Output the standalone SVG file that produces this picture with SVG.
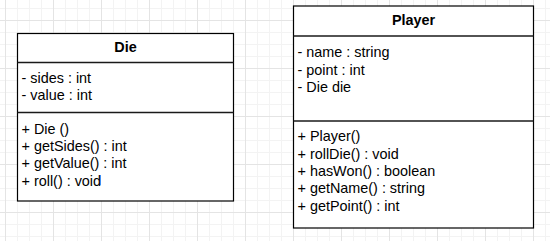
<svg xmlns="http://www.w3.org/2000/svg" width="550" height="241" viewBox="0 0 550 241">
  <style>
    .box { fill: #ffffff; stroke: #000000; stroke-width: 1.2; }
    .div { stroke: #1a1a1a; stroke-width: 1.3; fill: none; }
    .t { font-family: "Liberation Sans", Arial, sans-serif; font-size: 14.4px; fill: #000000; }
    .h { font-weight: bold; text-anchor: middle; }
  </style>
  <defs>
    <!-- canvas grid: minor line every 12px, major every 48px -->
    <pattern id="grid" x="5" y="20" width="48" height="48" patternUnits="userSpaceOnUse">
      <rect x="12" y="0" width="1" height="48" fill="#f3f3f3"/>
      <rect x="24" y="0" width="1" height="48" fill="#f3f3f3"/>
      <rect x="36" y="0" width="1" height="48" fill="#f3f3f3"/>
      <rect x="0" y="12" width="48" height="1" fill="#f3f3f3"/>
      <rect x="0" y="24" width="48" height="1" fill="#f3f3f3"/>
      <rect x="0" y="36" width="48" height="1" fill="#f3f3f3"/>
      <rect x="0" y="0" width="1" height="48" fill="#e4e4e4"/>
      <rect x="0" y="0" width="48" height="1" fill="#e4e4e4"/>
    </pattern>
  </defs>

  <rect width="550" height="241" fill="#ffffff"/>
  <rect width="550" height="241" fill="url(#grid)"/>

  <g id="connectors"/>

  <!-- class Die -->
  <g id="die">
    <rect class="box" x="17.5" y="33.5" width="216" height="167.5"/>
    <line class="div" x1="17.5" y1="62.5" x2="233.5" y2="62.5"/>
    <line class="div" x1="17.5" y1="112.5" x2="233.5" y2="112.5"/>
    <text class="t h" x="125.5" y="51.5">Die</text>
    <text class="t" x="21.5" y="83">- sides : int</text>
    <text class="t" x="21.5" y="100.3">- value : int</text>
    <text class="t" x="21.5" y="133.7">+ Die ()</text>
    <text class="t" x="21.5" y="151">+ getSides() : int</text>
    <text class="t" x="21.5" y="168.3">+ getValue() : int</text>
    <text class="t" x="21.5" y="185.6">+ roll() : void</text>
    <!-- text caret -->
    <rect x="100" y="175" width="1" height="10" fill="#3d8ff5"/>
  </g>

  <!-- class Player -->
  <g id="player">
    <rect class="box" x="293.5" y="6" width="240" height="222"/>
    <line class="div" x1="293.5" y1="36" x2="533.5" y2="36"/>
    <line class="div" x1="293.5" y1="121" x2="533.5" y2="121"/>
    <text class="t h" x="413.5" y="24.5">Player</text>
    <text class="t" x="297.5" y="57.4">- name : string</text>
    <text class="t" x="297.5" y="74.7">- point : int</text>
    <text class="t" x="297.5" y="92">- Die die</text>
    <text class="t" x="297.5" y="141.4">+ Player()</text>
    <text class="t" x="297.5" y="158.7">+ rollDie() : void</text>
    <text class="t" x="297.5" y="176">+ hasWon() : boolean</text>
    <text class="t" x="297.5" y="193.3">+ getName() : string</text>
    <text class="t" x="297.5" y="210.6">+ getPoint() : int</text>
  </g>
</svg>
